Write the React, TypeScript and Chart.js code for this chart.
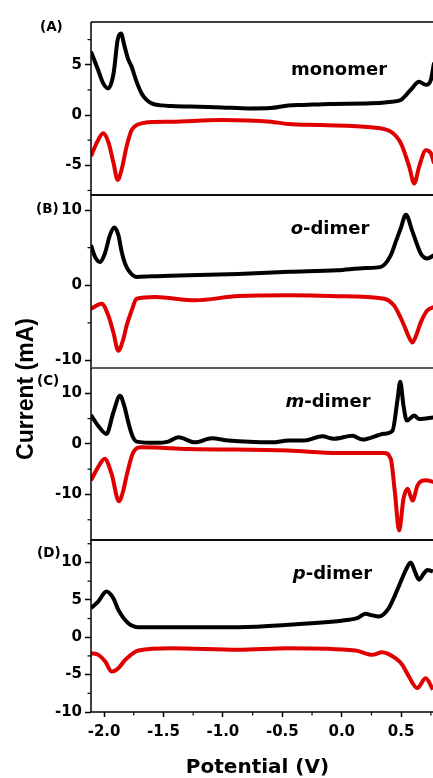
import React, { useEffect, useRef } from 'react';
import { Chart, registerables } from 'chart.js';

Chart.register(...registerables);

// ---------- data ----------
const POTENTIAL_TICKS = [-2.0, -1.5, -1.0, -0.5, 0.0, 0.5];
const POTENTIAL_MINOR = [-1.75, -1.25, -0.75, -0.25, 0.25, 0.75];
const POTENTIAL_RANGE = [-2.11, 0.768];

// (A) monomer
const MONOMER_OX_V = [-2.11, -2.05, -2.007, -1.965, -1.92, -1.886, -1.857, -1.83, -1.8, -1.768, -1.726, -1.684, -1.642, -1.6, -1.515, -1.43, -1.2, -1.01, -0.78, -0.6, -0.45, -0.32, -0.1, 0.245, 0.4, 0.497, 0.58, 0.65, 0.71, 0.75, 0.777];
const MONOMER_OX_I = [6.3, 4.47, 3.15, 2.65, 4.14, 7.45, 8.1, 6.95, 5.63, 4.8, 3.3, 2.15, 1.5, 1.16, 0.96, 0.9, 0.82, 0.76, 0.66, 0.7, 0.95, 1.0, 1.1, 1.16, 1.3, 1.5, 2.5, 3.3, 3.0, 3.5, 5.2];
const MONOMER_RED_V = [-2.11, -2.063, -2.007, -1.965, -1.92, -1.886, -1.853, -1.81, -1.768, -1.726, -1.684, -1.6, -1.43, -1.01, -0.6, -0.45, -0.177, 0.245, 0.413, 0.497, 0.567, 0.61, 0.652, 0.708, 0.75, 0.777];
const MONOMER_RED_I = [-4.1, -2.8, -1.8, -2.65, -4.8, -6.45, -5.46, -3.1, -1.5, -1.0, -0.83, -0.7, -0.66, -0.5, -0.66, -0.9, -1.0, -1.22, -1.65, -2.8, -5.1, -6.8, -5.1, -3.5, -3.8, -4.8];
const MONOMER_RANGE = [-7.95, 9.25];
const MONOMER_TICKS = [-5, 0, 5];
const MONOMER_MINOR = [-7.5, -2.5, 2.5, 7.5];

// (B) o-dimer
const ODIMER_OX_V = [-2.11, -2.077, -2.035, -1.993, -1.95, -1.914, -1.88, -1.852, -1.824, -1.796, -1.726, -1.6, -1.29, -0.87, -0.447, -0.036, 0.2, 0.33, 0.413, 0.455, 0.497, 0.54, 0.596, 0.666, 0.72, 0.777];
const ODIMER_OX_I = [5.35, 3.8, 3.1, 4.23, 6.7, 7.67, 6.7, 4.46, 2.9, 2.0, 1.1, 1.2, 1.34, 1.5, 1.78, 2.0, 2.3, 2.45, 4.0, 5.8, 7.6, 9.37, 7.1, 4.2, 3.56, 4.0];
const ODIMER_RED_V = [-2.11, -2.02, -1.965, -1.922, -1.88, -1.838, -1.81, -1.768, -1.726, -1.57, -1.23, -0.87, -0.447, -0.036, 0.357, 0.44, 0.48, 0.525, 0.56, 0.596, 0.63, 0.666, 0.72, 0.777];
const ODIMER_RED_I = [-3.13, -2.46, -4.0, -6.25, -8.7, -7.15, -5.35, -3.35, -1.8, -1.57, -2.0, -1.43, -1.34, -1.45, -1.8, -2.7, -3.8, -5.35, -6.7, -7.6, -6.5, -4.9, -3.35, -2.9];
const ODIMER_RANGE = [-11, 12];
const ODIMER_TICKS = [-10, 0, 10];
const ODIMER_MINOR = [-5, 5];

// (C) m-dimer
const MDIMER_OX_V = [-2.11, -2.05, -1.98, -1.922, -1.866, -1.83, -1.796, -1.762, -1.726, -1.57, -1.46, -1.375, -1.234, -1.094, -0.953, -0.587, -0.447, -0.318, -0.163, -0.065, 0.09, 0.175, 0.357, 0.427, 0.47, 0.492, 0.52, 0.548, 0.61, 0.652, 0.777];
const MDIMER_OX_I = [5.7, 3.6, 1.97, 6.2, 9.5, 7.5, 4.25, 1.6, 0.45, 0.2, 0.45, 1.3, 0.3, 1.1, 0.65, 0.3, 0.65, 0.65, 1.5, 1.0, 1.6, 0.85, 2.0, 2.6, 8.85, 12.3, 7.5, 4.6, 5.6, 4.9, 5.25];
const MDIMER_RED_V = [-2.11, -2.05, -1.995, -1.937, -1.875, -1.838, -1.81, -1.754, -1.684, -1.29, -0.447, -0.036, 0.357, 0.413, 0.447, 0.483, 0.52, 0.554, 0.596, 0.638, 0.708, 0.777];
const MDIMER_RED_I = [-7.2, -4.6, -2.95, -5.9, -11.35, -9.2, -6.24, -1.65, -0.67, -1.0, -1.32, -1.8, -1.8, -3.0, -9.5, -17.1, -10.8, -8.85, -11.2, -8.2, -7.2, -7.55];
const MDIMER_RANGE = [-19, 15];
const MDIMER_TICKS = [-10, 0, 10];
const MDIMER_MINOR = [-15, -5, 5];

// (D) p-dimer
const PDIMER_OX_V = [-2.11, -2.048, -1.98, -1.922, -1.88, -1.796, -1.71, -1.29, -0.87, -0.447, 0.06, 0.13, 0.2, 0.25, 0.312, 0.396, 0.48, 0.54, 0.58, 0.62, 0.65, 0.69, 0.72, 0.767];
const PDIMER_OX_I = [3.9, 4.8, 6.1, 5.2, 3.66, 1.87, 1.34, 1.34, 1.34, 1.66, 2.33, 2.55, 3.13, 2.95, 2.77, 3.9, 6.8, 9.0, 10.0, 8.6, 7.7, 8.5, 9.0, 8.8];
const PDIMER_RED_V = [-2.11, -2.048, -1.99, -1.935, -1.88, -1.82, -1.71, -1.43, -0.87, -0.447, 0.115, 0.255, 0.34, 0.452, 0.51, 0.565, 0.635, 0.706, 0.767];
const PDIMER_RED_I = [-2.14, -2.36, -3.25, -4.6, -4.15, -3.0, -1.78, -1.47, -1.69, -1.47, -1.78, -2.36, -2.0, -2.8, -3.7, -5.26, -6.8, -5.5, -7.0];
const PDIMER_RANGE = [-10, 13];
const PDIMER_TICKS = [-10, -5, 0, 5, 10];
const PDIMER_MINOR = [-7.5, -2.5, 2.5, 7.5, 12.5];

const PANELS = [
  { oxV: MONOMER_OX_V, oxI: MONOMER_OX_I, redV: MONOMER_RED_V, redI: MONOMER_RED_I, range: MONOMER_RANGE, ticks: MONOMER_TICKS, minor: MONOMER_MINOR },
  { oxV: ODIMER_OX_V, oxI: ODIMER_OX_I, redV: ODIMER_RED_V, redI: ODIMER_RED_I, range: ODIMER_RANGE, ticks: ODIMER_TICKS, minor: ODIMER_MINOR },
  { oxV: MDIMER_OX_V, oxI: MDIMER_OX_I, redV: MDIMER_RED_V, redI: MDIMER_RED_I, range: MDIMER_RANGE, ticks: MDIMER_TICKS, minor: MDIMER_MINOR },
  { oxV: PDIMER_OX_V, oxI: PDIMER_OX_I, redV: PDIMER_RED_V, redI: PDIMER_RED_I, range: PDIMER_RANGE, ticks: PDIMER_TICKS, minor: PDIMER_MINOR },
];

// ---------- layout ----------
const W = 433;
const H = 778;
const LEFT = 91;
const BOUNDS = [22, 195, 368, 540, 712];
const PAD = 20;
const XAXIS_H = 40;
const TICK_FONT = { family: '"DejaVu Sans", sans-serif', size: 15, weight: 'bold' as const };

const zip = (xs: number[], ys: number[]) => xs.map((x, i) => ({ x, y: ys[i] }));

function makeFramePlugin(minorY: number[], minorX: number[] | null, sepColor: string) {
  return {
    id: 'frame',
    afterDraw(chart: any) {
      const { ctx, chartArea } = chart;
      const { left, top, bottom } = chartArea;
      const cw = chart.width;
      ctx.save();
      ctx.lineWidth = 1.5;
      ctx.strokeStyle = sepColor;
      ctx.beginPath();
      ctx.moveTo(cw, top);
      ctx.lineTo(left, top);
      ctx.stroke();
      ctx.strokeStyle = '#000';
      ctx.beginPath();
      ctx.moveTo(left, top);
      ctx.lineTo(left, bottom);
      ctx.lineTo(cw, bottom);
      ctx.stroke();
      const ys = chart.scales.y;
      ctx.lineWidth = 1.2;
      minorY.forEach((v) => {
        const py = ys.getPixelForValue(v);
        ctx.beginPath();
        ctx.moveTo(left - 3.5, py);
        ctx.lineTo(left, py);
        ctx.stroke();
      });
      if (minorX) {
        const xs = chart.scales.x;
        minorX.forEach((v) => {
          const px = xs.getPixelForValue(v);
          ctx.beginPath();
          ctx.moveTo(px, bottom);
          ctx.lineTo(px, bottom + 3.5);
          ctx.stroke();
        });
      }
      ctx.restore();
    },
  };
}

export default function App() {
  const r0 = useRef<HTMLCanvasElement>(null);
  const r1 = useRef<HTMLCanvasElement>(null);
  const r2 = useRef<HTMLCanvasElement>(null);
  const r3 = useRef<HTMLCanvasElement>(null);
  const refs = [r0, r1, r2, r3];

  useEffect(() => {
    const charts = PANELS.map((p, i) => {
      const canvas = refs[i].current as HTMLCanvasElement;
      const isLast = i === PANELS.length - 1;
      const sepColor = i === 2 ? '#666' : '#000';
      const lineBase = { showLine: true, pointRadius: 0, borderWidth: 4, cubicInterpolationMode: 'monotone' as const, fill: false };
      return new Chart(canvas, {
        type: 'scatter',
        data: {
          datasets: [
            { ...lineBase, data: zip(p.oxV, p.oxI), borderColor: '#000000', backgroundColor: '#000000' },
            { ...lineBase, data: zip(p.redV, p.redI), borderColor: '#e00000', backgroundColor: '#e00000' },
          ],
        },
        options: {
          responsive: false,
          animation: false,
          devicePixelRatio: 1,
          events: [],
          layout: { padding: { top: PAD, bottom: isLast ? 0 : PAD, left: 0, right: 0 } },
          plugins: { legend: { display: false }, tooltip: { enabled: false } },
          scales: {
            x: {
              type: 'linear',
              min: POTENTIAL_RANGE[0],
              max: POTENTIAL_RANGE[1],
              display: isLast,
              afterBuildTicks: (s: any) => { s.ticks = POTENTIAL_TICKS.map((v) => ({ value: v })); },
              afterFit: (s: any) => { s.height = isLast ? XAXIS_H : 0; },
              border: { display: false },
              grid: { drawOnChartArea: false, drawTicks: true, tickLength: 5, tickWidth: 1.5, tickColor: '#000' },
              ticks: {
                font: TICK_FONT, color: '#000', padding: 6, maxRotation: 0, autoSkip: false,
                callback: (v: any) => Number(v).toFixed(1),
              },
            },
            y: {
              type: 'linear',
              min: p.range[0],
              max: p.range[1],
              afterBuildTicks: (s: any) => { s.ticks = p.ticks.map((v) => ({ value: v })); },
              afterFit: (s: any) => { s.width = LEFT; },
              border: { display: false },
              grid: { drawOnChartArea: false, drawTicks: true, tickLength: 6, tickWidth: 1.5, tickColor: '#000' },
              ticks: { font: TICK_FONT, color: '#000', padding: 3, autoSkip: false, callback: (v: any) => String(v) },
            },
          },
        },
        plugins: [makeFramePlugin(p.minor, isLast ? POTENTIAL_MINOR : null, sepColor)],
      } as any);
    });
    return () => charts.forEach((c) => c.destroy());
  }, []);

  const dv = '"DejaVu Sans", sans-serif';
  const lab = (left: number, top: number, size: number, text: React.ReactNode, center = false, family = dv) => (
    <div
      style={{
        position: 'absolute', left, top, fontFamily: family, fontWeight: 'bold', fontSize: size, lineHeight: 1,
        whiteSpace: 'nowrap', color: '#000', transform: center ? 'translateX(-50%)' : undefined,
      }}
    >
      {text}
    </div>
  );

  return (
    <div style={{ position: 'fixed', left: 0, top: 0, width: W, height: H, overflow: 'hidden', background: '#fff' }}>
      {PANELS.map((_, i) => {
        const top = BOUNDS[i];
        const bottom = BOUNDS[i + 1];
        const isLast = i === PANELS.length - 1;
        const h = bottom - top + PAD + (isLast ? XAXIS_H : PAD);
        return (
          <canvas
            key={i}
            ref={refs[i]}
            width={W}
            height={h}
            style={{ position: 'absolute', left: 0, top: top - PAD, width: W, height: h }}
          />
        );
      })}
      {lab(40, 19.5, 13.5, '(A)')}
      {lab(36, 202, 13.5, '(B)')}
      {lab(37, 373.5, 13.5, '(C)')}
      {lab(37, 545.5, 13.5, '(D)')}
      {lab(339, 59.8, 18, 'monomer', true)}
      {lab(330, 218.5, 18, <span><i>o</i>-dimer</span>, true)}
      {lab(328, 391.5, 18, <span><i>m</i>-dimer</span>, true)}
      {lab(332.5, 563.5, 18, <span><i>p</i>-dimer</span>, true)}
      {lab(257.5, 756.4, 20, 'Potential (V)', true)}
      <div
        style={{
          position: 'absolute', left: 24.5, top: 388.5, fontFamily: '"Liberation Sans", Arial, sans-serif', fontWeight: 'bold',
          fontSize: 23, lineHeight: 1, whiteSpace: 'nowrap', color: '#000', transform: 'translate(-50%, -50%) rotate(-90deg)',
        }}
      >
        Current (mA)
      </div>
    </div>
  );
}
